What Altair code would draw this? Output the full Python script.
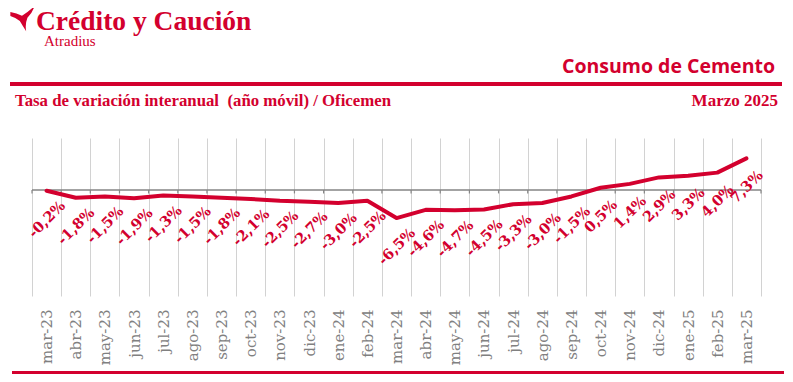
import altair as alt
import pandas as pd

# ---- data ----
meses = ["mar-23", "abr-23", "may-23", "jun-23", "jul-23", "ago-23", "sep-23",
         "oct-23", "nov-23", "dic-23", "ene-24", "feb-24", "mar-24", "abr-24",
         "may-24", "jun-24", "jul-24", "ago-24", "sep-24", "oct-24", "nov-24",
         "dic-24", "ene-25", "feb-25", "mar-25"]
valores = [-0.2, -1.8, -1.5, -1.9, -1.3, -1.5, -1.8, -2.1, -2.5, -2.7, -3.0, -2.5,
           -6.5, -4.6, -4.7, -4.5, -3.3, -3.0, -1.5, 0.5, 1.4, 2.9, 3.3, 4.0, 7.3]
etiquetas = [f"{v:.1f}".replace(".", ",") + "%" for v in valores]

marca = "Crédito y Caución"
submarca = "Atradius"
titulo = "Consumo de Cemento"
subtitulo = "Tasa de variación interanual\u00a0 (año móvil) / Oficemen"
fecha = "Marzo 2025"

RED = "#D3002E"
W, H = 729, 158

df = pd.DataFrame({"mes": meses, "valor": valores, "etiqueta": etiquetas})
bounds = pd.DataFrame({"i": list(range(len(meses) + 1))})

xscale = alt.Scale(type="band", domain=meses, paddingInner=0, paddingOuter=0)
yscale = alt.Scale(domain=[-24.5, 12], nice=False, zero=False)

xaxis = alt.Axis(title=None, grid=True, gridColor="#d2d2d2", gridWidth=1,
                 tickBand="extent", ticks=False, domain=False,
                 labelAngle=270, labelAlign="right", labelBaseline="middle",
                 labelPadding=13, labelFont="DejaVu Serif", labelFontSize=15,
                 labelColor="#808080")

base = alt.Chart(df)

line = base.mark_line(color=RED, strokeWidth=4, strokeCap="round", strokeJoin="round").encode(
    x=alt.X("mes:N", scale=xscale, axis=xaxis),
    y=alt.Y("valor:Q", scale=yscale, axis=None),
)

labels = base.mark_text(color=RED, font="DejaVu Serif", fontWeight="bold", fontSize=14.5,
                        angle=315, align="center", baseline="middle", dx=-20, dy=21).encode(
    x=alt.X("mes:N", scale=xscale),
    y=alt.Y("valor:Q", scale=yscale),
    text="etiqueta:N",
)

bscale = alt.Scale(domain=[0, len(meses)], nice=False, zero=False)
zero = alt.Chart(bounds).mark_rule(color="#858585", strokeWidth=1.5).encode(
    x=alt.X("min(i):Q", scale=bscale, axis=None),
    x2="max(i):Q",
    y=alt.datum(0),
)

ticks = alt.Chart(bounds).mark_rule(color="#858585", strokeWidth=1.2).encode(
    x=alt.X("i:Q", scale=bscale, axis=None),
    y=alt.datum(0), y2=alt.datum(-0.8),
)

one = alt.Chart(pd.DataFrame({"k": [0]}))

def hrule(y, x1, x2):
    return one.mark_rule(color=RED, strokeWidth=4).encode(
        x=alt.value(x1), x2=alt.value(x2), y=alt.value(y))

def htext(txt, x, y, size, align="left", font="Liberation Serif", weight="bold"):
    return one.mark_text(text=txt, color=RED, font=font, fontWeight=weight, fontSize=size,
                         align=align, baseline="alphabetic").encode(
        x=alt.value(x), y=alt.value(y))

logo_path = ("M -1 -0.52 Q -0.5 -0.42 -0.08 -0.22 Q 0.4 -0.5 0.92 -1 "
             "Q 0.75 -0.45 0.35 -0.05 Q 0.15 0.45 0.25 1 "
             "Q -0.05 0.55 -0.25 0.2 Q -0.6 -0.1 -1 -0.2 Z")
logo = one.mark_point(shape=logo_path, filled=True, color=RED, size=640, opacity=1,
                      strokeWidth=0).encode(
    x=alt.value(-9), y=alt.value(-119.5))

header = [
    logo,
    htext(marca, 4, -108.5, 27.5),
    htext(submarca, 12, -92, 15, weight="normal"),
    hrule(-54, -22, 750),
    htext(titulo, 743, -65, 19.5, align="right", font="Open Sans"),
    htext(subtitulo, -17, -32, 16.8),
    htext(fecha, 746, -32, 17, align="right"),
    hrule(235, -20, 752),
]

main = alt.layer(line, labels)
marks0 = alt.layer(zero, ticks)

chart = alt.layer(marks0, main, *header).resolve_scale(x="independent").properties(
    width=W, height=H,
    autosize=alt.AutoSizeParams(type="none"),
    padding={"left": 24, "top": 130, "right": 24, "bottom": 78},
).configure_view(stroke=None)

chart.save("out.html", embed_options={"renderer": "svg", "actions": False})
